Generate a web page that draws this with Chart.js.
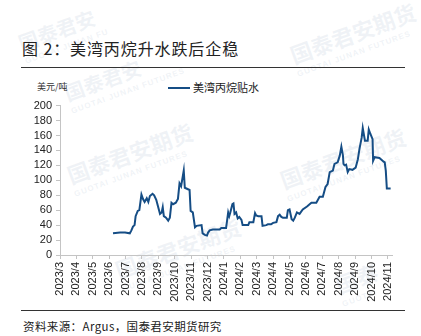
<!DOCTYPE html>
<html>
<head>
<meta charset="utf-8">
<script src="https://cdn.jsdelivr.net/npm/chart.js@4/dist/chart.umd.min.js"></script>
<style>
  html, body { margin: 0; padding: 0; background: #fff; }
  #page { position: relative; width: 421px; height: 336px; overflow: hidden; font-family: "Noto Sans CJK SC", sans-serif; }
  .title { position: absolute; left: 22px; top: 36px; font-size: 16px; letter-spacing: 0.9px; color: #222; white-space: nowrap; }
  .rule { position: absolute; left: 21px; width: 384px; height: 1px; background: #333; }
  .source { position: absolute; left: 23px; top: 318px; font-size: 11.5px; letter-spacing: 0.4px; color: #222; white-space: nowrap; }
  .unit { position: absolute; left: 37px; top: 80px; font-size: 9px; color: #333; }
  .legend { position: absolute; left: 168px; top: 79px; font-size: 11px; color: #222; white-space: nowrap; }
  .legend i { display: inline-block; width: 22px; height: 2px; background: #154d85; vertical-align: middle; margin-right: 3px; position: relative; top: -1px; }
  .wm { position: absolute; color: rgba(185, 200, 215, 0.22); font-weight: bold; white-space: nowrap; transform: rotate(-20deg); transform-origin: left top; }
  .wm small { display: block; font-family: "Liberation Sans", sans-serif; font-size: 8px; letter-spacing: 1px; }
  #wrap { position: absolute; left: 0; top: 95px; width: 421px; height: 213px; }
</style>
</head>
<body>
<div id="page">
  <div class="wm" style="left:14px;top:30px;font-size:20px">国泰君安<small>GUOTAI JUNAN FU</small></div>
  <div class="wm" style="left:285px;top:40px;font-size:22px">国泰君安期货<small>GUOTAI JUNAN FUTURES</small></div>
  <div class="wm" style="left:60px;top:80px;font-size:20px">国泰君安<small>GUOTAI JUNAN FUTURES</small></div>
  <div class="wm" style="left:62px;top:160px;font-size:22px">国泰君安期货<small>GUOTAI JUNAN FUTURES</small></div>
  <div class="wm" style="left:275px;top:165px;font-size:22px">国泰君安期货<small>GUOTAI JUNAN FUTURES</small></div>
  <div class="wm" style="left:110px;top:255px;font-size:22px">国泰君安期货<small>GUOTAI JUNAN FUTURES</small></div>
  <div class="wm" style="left:330px;top:270px;font-size:22px">国泰<small>GUOTAI</small></div>

  <div class="title">图 2：美湾丙烷升水跌后企稳</div>
  <div class="rule" style="top:67px"></div>
  <div class="unit">美元/吨</div>
  <div class="legend"><i></i>美湾丙烷贴水</div>
  <div id="wrap"><canvas id="chart" width="421" height="213"></canvas></div>
  <div class="rule" style="top:310px"></div>
  <div class="source">资料来源：Argus，国泰君安期货研究</div>
</div>
<script>
// 美湾丙烷贴水（美元/吨）
const monthLabels = ['2023/3', '2023/4', '2023/5', '2023/6', '2023/7', '2023/8', '2023/9', '2023/10', '2023/11', '2023/12',
  '2024/1', '2024/2', '2024/3', '2024/4', '2024/5', '2024/6', '2024/7', '2024/8', '2024/9', '2024/10', '2024/11'];

const dates = [
  '2023-06-08', '2023-06-21', '2023-06-30', '2023-07-09', '2023-07-12', '2023-07-15', '2023-07-18', '2023-07-20',
  '2023-07-24', '2023-07-27', '2023-07-31', '2023-08-03', '2023-08-06', '2023-08-10', '2023-08-13', '2023-08-16',
  '2023-08-21', '2023-08-24', '2023-08-28', '2023-08-31', '2023-09-04', '2023-09-07', '2023-09-09', '2023-09-11',
  '2023-09-15', '2023-09-19', '2023-09-22', '2023-09-25', '2023-09-28', '2023-10-03', '2023-10-07', '2023-10-10',
  '2023-10-13', '2023-10-18', '2023-10-20', '2023-10-29', '2023-10-31', '2023-11-04', '2023-11-08', '2023-11-11',
  '2023-11-20', '2023-11-22', '2023-11-26', '2023-11-30', '2023-12-02', '2023-12-05', '2023-12-11', '2023-12-24',
  '2023-12-27', '2024-01-05', '2024-01-09', '2024-01-11', '2024-01-13', '2024-01-17', '2024-01-19', '2024-01-21',
  '2024-01-24', '2024-01-27', '2024-01-30', '2024-02-03', '2024-02-05', '2024-02-15', '2024-02-17', '2024-02-24',
  '2024-02-27', '2024-02-29', '2024-03-04', '2024-03-10', '2024-03-12', '2024-03-19', '2024-03-22', '2024-03-28',
  '2024-04-01', '2024-04-07', '2024-04-10', '2024-04-13', '2024-04-16', '2024-04-19', '2024-04-26', '2024-04-28',
  '2024-05-01', '2024-05-05', '2024-05-08', '2024-05-11', '2024-05-15', '2024-05-20', '2024-05-26', '2024-06-03',
  '2024-06-11', '2024-06-20', '2024-06-26', '2024-07-02', '2024-07-07', '2024-07-11', '2024-07-15', '2024-07-21',
  '2024-07-24', '2024-07-30', '2024-08-03', '2024-08-06', '2024-08-09', '2024-08-10', '2024-08-12', '2024-08-15',
  '2024-08-18', '2024-08-21', '2024-08-27', '2024-09-02', '2024-09-06', '2024-09-09', '2024-09-13', '2024-09-15',
  '2024-09-19', '2024-09-24', '2024-09-26', '2024-09-29', '2024-10-03', '2024-10-04', '2024-10-07', '2024-10-16',
  '2024-10-24', '2024-10-26', '2024-10-28', '2024-10-30', '2024-11-06'
];

const discount = [
  29, 30, 30, 29, 33, 38, 40, 52,
  59, 60, 81, 75, 71, 76, 71, 79,
  82, 80, 74, 66, 55, 57, 64, 52,
  50, 46, 50, 70, 68, 70, 75, 96,
  92, 113, 90, 87, 59, 57, 37, 39,
  40, 29, 27, 26, 30, 33, 34, 34,
  36, 36, 57, 52, 57, 68, 69, 55,
  57, 49, 51, 47, 40, 40, 44, 44,
  56, 53, 52, 52, 39, 40, 41, 41,
  43, 44, 52, 54, 51, 50, 50, 60,
  61, 48, 46, 50, 57, 55, 61, 65,
  70, 70, 78, 78, 91, 95, 111, 113,
  122, 124, 133, 145, 133, 122, 120, 121,
  111, 115, 114, 117, 128, 142, 157, 170,
  153, 153, 168, 162, 155, 126, 131, 130,
  125, 124, 113, 89, 89
];

const yTicks = [0, 20, 40, 60, 80, 100, 120, 140, 160, 180, 200];

// months elapsed since 2023/3, with the day as a fraction of the month
function monthOffset(s) {
  const [y, m, d] = s.split('-').map(Number);
  const days = new Date(y, m, 0).getDate();
  return (y - 2023) * 12 + (m - 3) + (d - 1) / days;
}

const points = dates.map((d, i) => ({ x: monthOffset(d), y: discount[i] }));

const axisColor = '#c4c4c4';
const tickFont = { family: 'Liberation Sans, Arial, sans-serif', size: 11 };

new Chart(document.getElementById('chart'), {
  type: 'line',
  data: {
    datasets: [{
      label: '美湾丙烷贴水',
      data: points,
      borderColor: '#154d85',
      borderWidth: 2,
      pointRadius: 0,
      tension: 0,
      fill: false
    }]
  },
  options: {
    responsive: false,
    animation: false,
    maintainAspectRatio: false,
    layout: { padding: { top: 7, left: 18, right: 29, bottom: 0 } },
    plugins: { legend: { display: false }, tooltip: { enabled: false } },
    scales: {
      x: {
        type: 'linear',
        min: 0,
        max: 20.25,
        afterFit: s => { s.height = 53; },
        border: { color: axisColor },
        grid: { drawOnChartArea: false, drawTicks: true, tickLength: 4, color: axisColor },
        ticks: {
          stepSize: 1,
          includeBounds: false,
          autoSkip: false,
          minRotation: 90,
          maxRotation: 90,
          padding: 3,
          color: '#222',
          font: tickFont,
          callback: v => monthLabels[v] || ''
        }
      },
      y: {
        min: 0,
        max: 200,
        afterFit: s => { s.width = 42; },
        afterBuildTicks: s => { s.ticks = yTicks.map(v => ({ value: v })); },
        border: { color: axisColor },
        grid: { drawOnChartArea: false, drawTicks: true, tickLength: 4, color: axisColor },
        ticks: { padding: 4, autoSkip: false, color: '#222', font: tickFont }
      }
    }
  }
});
</script>
</body>
</html>
